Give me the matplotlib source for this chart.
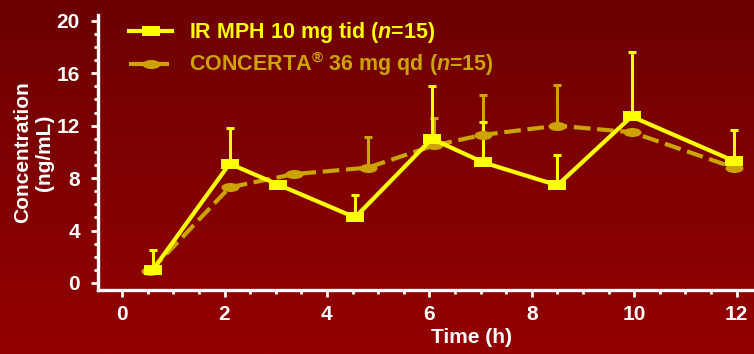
import numpy as np
import matplotlib
matplotlib.use('Agg')
import matplotlib.pyplot as plt
from matplotlib.path import Path
from matplotlib.transforms import Affine2D

plt.rcParams['font.family'] = 'Liberation Sans'
plt.rcParams['font.weight'] = 'bold'
plt.rcParams['mathtext.fontset'] = 'custom'
plt.rcParams['mathtext.rm'] = 'Liberation Sans:bold'
plt.rcParams['mathtext.it'] = 'Liberation Sans:italic:bold'

# IR MPH 10 mg tid
ir_t = [0.6, 2.1, 3.05, 4.55, 6.05, 7.05, 8.5, 9.95, 11.95]
ir_c = [1.0, 9.1, 7.5, 5.0, 11.0, 9.2, 7.45, 12.7, 9.3]
ir_sd = [1.5, 2.7, 0.0, 1.7, 4.0, 3.1, 2.3, 4.9, 2.4]

# CONCERTA 36 mg qd
co_t = [0.55, 2.1, 3.35, 4.8, 6.1, 7.05, 8.5, 9.95, 11.95]
co_c = [0.9, 7.3, 8.3, 8.8, 10.5, 11.3, 12.0, 11.5, 8.8]
co_sd = [0.0, 0.0, 0.0, 2.3, 2.1, 3.05, 3.1, 0.0, 0.0]

x_ticks = [0, 2, 4, 6, 8, 10, 12]
y_ticks = [0, 4, 8, 12, 16, 20]

amarelo = '#FFFF00'
dourado = '#CCA300'

# marcadores achatados
quad = Path.unit_rectangle().transformed(Affine2D().translate(-0.5, -0.5).scale(1.0, 0.55))
elipse = Path.unit_circle().transformed(Affine2D().scale(1.0, 0.5))

fig = plt.figure(figsize=(7.54, 3.54), dpi=100)

# fundo em degradê
bg = fig.add_axes([0, 0, 1, 1], zorder=-1)
grad = np.linspace(0, 1, 256).reshape(-1, 1)
cores = np.zeros((256, 1, 3))
cores[:, 0, 0] = (108 + 40 * grad[:, 0]) / 255
bg.imshow(cores, aspect='auto', extent=[0, 1, 0, 1], origin='upper')
bg.axis('off')

ax = fig.add_axes([0.13, 0.181, 0.87, 0.777])
ax.set_facecolor('none')

def barras(ax, t, c, sd, cor):
    t = np.array(t); c = np.array(c); sd = np.array(sd)
    m = sd > 0
    ax.errorbar(t[m], c[m], yerr=[np.zeros(m.sum()), sd[m]], fmt='none',
                ecolor=cor, elinewidth=2.2, capsize=3, capthick=2.2, zorder=2)

barras(ax, co_t, co_c, co_sd, dourado)
ax.plot(co_t, co_c, color=dourado, lw=3, ls=(0, (4, 1.6)), marker=elipse,
        markersize=13, markeredgewidth=0, label=r'CONCERTA$^{®}$ 36 mg qd ($\mathit{n}$=15)', zorder=3)
barras(ax, ir_t, ir_c, ir_sd, amarelo)
ax.plot(ir_t, ir_c, color=amarelo, lw=3, marker=quad, markersize=13,
        markeredgewidth=0, label=r'IR MPH 10 mg tid ($\mathit{n}$=15)', zorder=4)

ax.set_xlim(-0.47, 12.34)
ax.set_ylim(-0.53, 20.45)
ax.set_xticks(x_ticks)
ax.set_yticks(y_ticks)
ax.set_xticks(np.arange(0, 12.5, 0.5), minor=True)
ax.set_yticks(np.arange(0, 21, 1), minor=True)

for lado in ['top', 'right']:
    ax.spines[lado].set_visible(False)
for lado in ['left', 'bottom']:
    ax.spines[lado].set_color('white')
    ax.spines[lado].set_linewidth(2.4)
ax.tick_params(which='major', colors='white', length=5, width=2, labelsize=15, direction='out')
ax.tick_params(which='minor', colors='white', length=3, width=2, direction='out')
ax.tick_params(axis='x', pad=6)
ax.tick_params(axis='y', pad=8)
for lbl in ax.get_xticklabels() + ax.get_yticklabels():
    lbl.set_fontweight('bold')

ax.set_xlabel('Time (h)', color='white', fontsize=15, fontweight='bold', x=0.57, labelpad=3)
ax.set_ylabel('Concentration\n(ng/mL)', color='white', fontsize=15, fontweight='bold', labelpad=2)

handles, labels = ax.get_legend_handles_labels()
leg = ax.legend(handles[::-1], labels[::-1], loc='upper left', bbox_to_anchor=(0.018, 1.05),
                frameon=False, fontsize=15.5, handlelength=2.0, handletextpad=0.8, labelspacing=0.2)
for txt, cor in zip(leg.get_texts(), [amarelo, dourado]):
    txt.set_color(cor)
    txt.set_fontweight('bold')

fig.savefig('out.png', dpi=100)
